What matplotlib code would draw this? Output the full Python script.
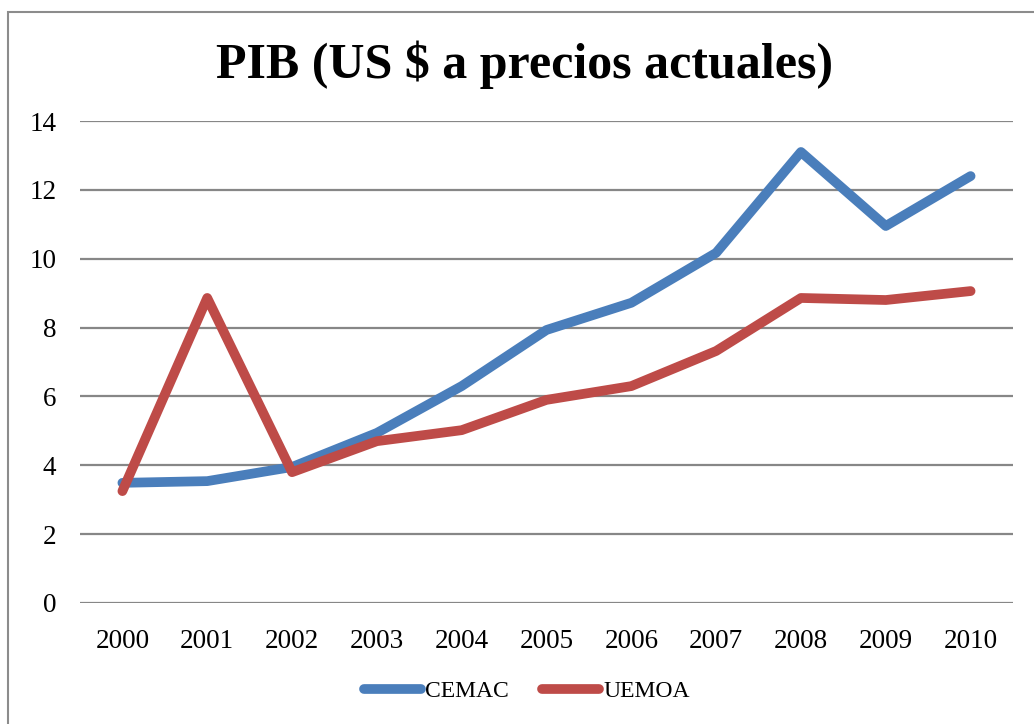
import matplotlib
matplotlib.use("Agg")
from matplotlib import pyplot as plt
from matplotlib.patches import Rectangle

years = ['2000', '2001', '2002', '2003', '2004', '2005', '2006', '2007', '2008', '2009', '2010']
cemac = [3.49, 3.54, 3.95, 4.94, 6.30, 7.93, 8.72, 10.17, 13.10, 10.95, 12.40]
uemoa = [3.25, 8.86, 3.80, 4.70, 5.02, 5.90, 6.30, 7.32, 8.86, 8.80, 9.06]
yticks = [0, 2, 4, 6, 8, 10, 12, 14]

plt.rcParams['font.family'] = ['Liberation Serif', 'DejaVu Serif']

W, H = 1034, 724
fig = plt.figure(figsize=(W / 100, H / 100), dpi=100)

# outer chart border (cropped at right and bottom)
fig.patches.append(Rectangle((8 / W, -0.05), 1.1, 1 - 12 / H + 0.05,
                             transform=fig.transFigure, fill=False,
                             edgecolor='#8c8c8c', linewidth=1.5))

ax = fig.add_axes([80 / W, 1 - 603 / H, (1013 - 80) / W, (603 - 121) / H])
x = range(len(years))
ax.plot(x, cemac, color='#4a7ebb', linewidth=7, solid_capstyle='round',
        solid_joinstyle='round', label='CEMAC', zorder=3)
ax.plot(x, uemoa, color='#be4b48', linewidth=7, solid_capstyle='round',
        solid_joinstyle='round', label='UEMOA', zorder=3)

ax.set_xlim(-0.5, len(years) - 0.5)
ax.set_ylim(0, 14)
ax.set_yticks(yticks)
ax.set_xticks(list(x))
ax.set_xticklabels(years)
for s in ax.spines.values():
    s.set_visible(False)
ax.tick_params(axis='both', length=0, labelsize=19.5)
ax.tick_params(axis='x', pad=19)
ax.tick_params(axis='y', pad=17)
ax.grid(axis='y', color='#878787', linewidth=1.6)
ax.set_axisbelow(True)

fig.text(525 / W, 1 - 65 / H, 'PIB (US $ a precios actuales)', ha='center',
         va='center', fontsize=36, fontweight='bold')

leg = fig.legend(loc='center', bbox_to_anchor=(527 / W, 1 - 691 / H), ncol=2,
                 frameon=False, fontsize=17, handlelength=2.4, handletextpad=0.2,
                 columnspacing=1.4)
for h in leg.get_lines():
    h.set_solid_capstyle('round')

fig.savefig('out.png', dpi=100)
